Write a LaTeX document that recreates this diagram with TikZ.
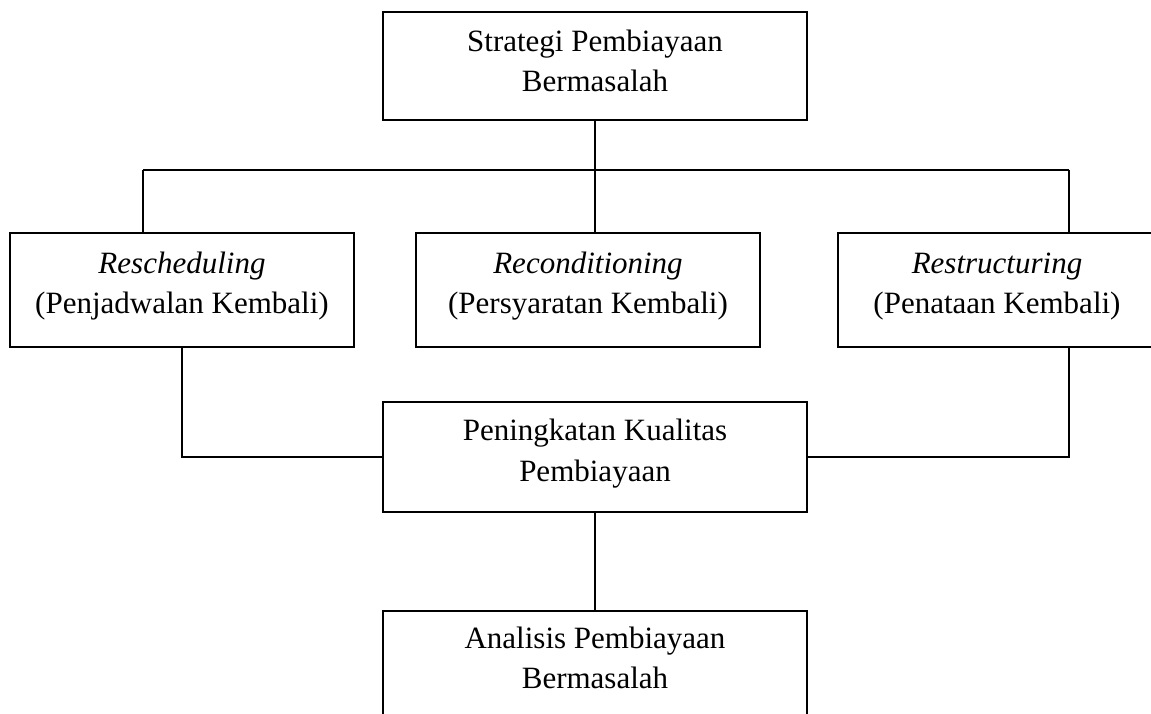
\documentclass[tikz,border=0pt]{standalone}
\usepackage{fontspec}
\setmainfont{Liberation Serif}
\begin{document}
\begin{tikzpicture}[x=0.5pt,y=-0.5pt,
  box/.style={draw=black,line width=1pt,rectangle,inner sep=0pt,fill=none},
  lbl/.style={anchor=base,inner sep=0pt,font=\fontsize{15.5pt}{20pt}\selectfont},
  conn/.style={draw=black,line width=1pt}]
\clip (0,0) rectangle (1151,713);
\fill[white] (0,0) rectangle (1151,713);
% boxes
\node[box,minimum width=212pt,minimum height=54pt] (top) at (595,66) {};
\node[box,minimum width=172pt,minimum height=57pt] (left) at (182,290) {};
\node[box,minimum width=172pt,minimum height=57pt] (mid) at (588,290) {};
\node[box,minimum width=159pt,minimum height=57pt] (right) at (997,290) {};
\node[box,minimum width=212pt,minimum height=55pt] (qual) at (595,457) {};
\node[box,minimum width=212pt,minimum height=55pt] (anal) at (595,666) {};
% texts
\node[lbl] (top1) at (595,51) {Strategi Pembiayaan};
\node[lbl] (top2) at (595,91) {Bermasalah};
\node[lbl] (left1) at (182,273) {\textit{Rescheduling}};
\node[lbl] (left2) at (182,313) {(Penjadwalan Kembali)};
\node[lbl] (mid1) at (588,273) {\textit{Reconditioning}};
\node[lbl] (mid2) at (588,313) {(Persyaratan Kembali)};
\node[lbl] (right1) at (997,273) {\textit{Restructuring}};
\node[lbl] (right2) at (997,313) {(Penataan Kembali)};
\node[lbl] (qual1) at (595,440) {Peningkatan Kualitas};
\node[lbl] (qual2) at (595,481) {Pembiayaan};
\node[lbl] (anal1) at (595,648) {Analisis Pembiayaan};
\node[lbl] (anal2) at (595,688) {Bermasalah};
% connectors
\coordinate (hub) at (595,170);
\coordinate (jL) at (143,170);
\coordinate (jR) at (1069,170);
\coordinate (cL) at (182,457);
\coordinate (cR) at (1069,457);
\draw[conn] (top.south) -- (hub);
\draw[conn] (jL) -- (jR);
\draw[conn] (jL) -- (jL |- left.north);
\draw[conn] (hub) -- (hub |- mid.north);
\draw[conn] (jR) -- (jR |- right.north);
\draw[conn] (cL |- left.south) -- (cL) -- (qual.west);
\draw[conn] (cR |- right.south) -- (cR) -- (qual.east);
\draw[conn] (qual.south) -- (anal.north);
\end{tikzpicture}
\end{document}
